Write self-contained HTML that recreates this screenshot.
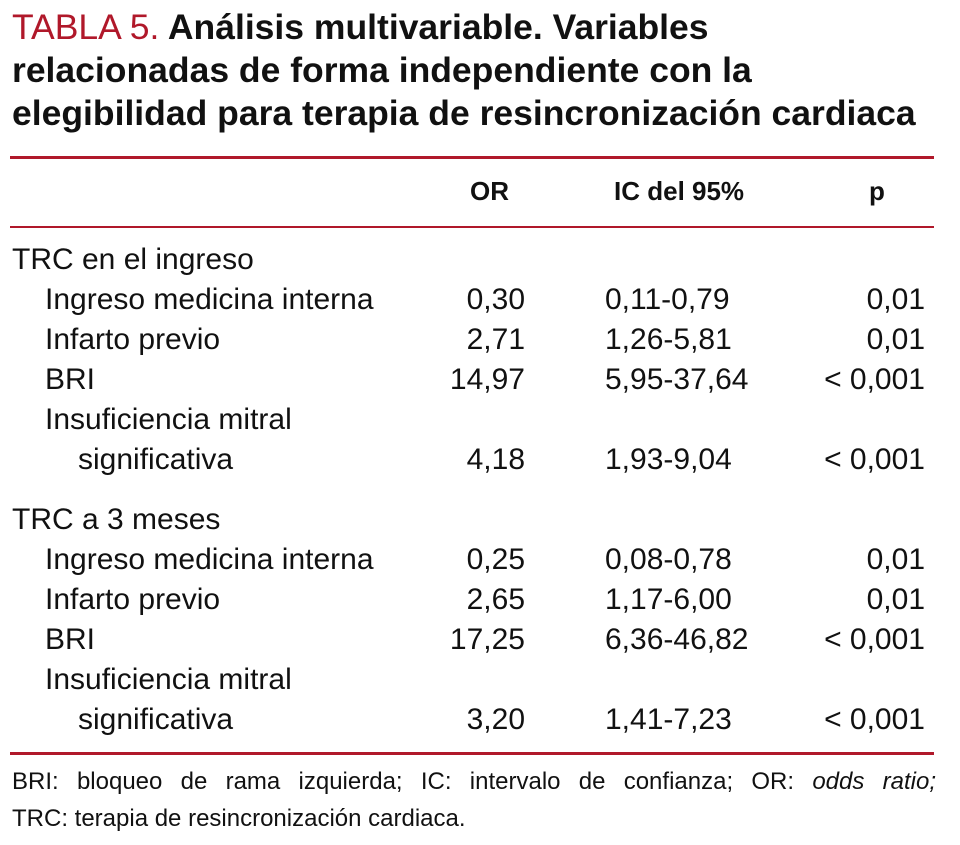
<!DOCTYPE html>
<html><head><meta charset="utf-8">
<style>
html,body{margin:0;padding:0;background:#fff;}
body{width:960px;height:845px;position:relative;overflow:hidden;font-family:"Liberation Sans Narrow","Liberation Sans",sans-serif;color:#111;}
.t{position:absolute;white-space:nowrap;line-height:34px;font-size:30px;}
.r{text-align:right;}
.title{position:absolute;left:12px;font-size:35.5px;font-weight:bold;line-height:43px;white-space:nowrap;}
.red{color:#b0182a;font-weight:normal;}
.rule{position:absolute;left:10px;width:924px;height:3px;background:#b0182a;}
.h{font-weight:bold;font-size:26px;}
.fn{position:absolute;left:12px;font-size:24px;line-height:30px;white-space:nowrap;}
</style></head><body>
<div class="title" style="top:6px"><span class="red">TABLA 5.</span> Análisis multivariable. Variables</div>
<div class="title" style="top:49px">relacionadas de forma independiente con la</div>
<div class="title" style="top:92px">elegibilidad para terapia de resincronización cardiaca</div>
<div class="rule" style="top:156px"></div>
<div class="t h" style="left:470px;top:174px">OR</div>
<div class="t h" style="left:614px;top:174px">IC del 95%</div>
<div class="t h" style="left:869px;top:174px">p</div>
<div class="rule" style="top:226px;height:2px"></div>

<div class="t" style="left:12px;top:243px">TRC en el ingreso</div>
<div class="t" style="left:45px;top:283px">Ingreso medicina interna</div>
<div class="t r" style="right:435px;top:283px">0,30</div>
<div class="t" style="left:605px;top:283px">0,11-0,79</div>
<div class="t r" style="right:35px;top:283px">0,01</div>

<div class="t" style="left:45px;top:323px">Infarto previo</div>
<div class="t r" style="right:435px;top:323px">2,71</div>
<div class="t" style="left:605px;top:323px">1,26-5,81</div>
<div class="t r" style="right:35px;top:323px">0,01</div>

<div class="t" style="left:45px;top:363px">BRI</div>
<div class="t r" style="right:435px;top:363px">14,97</div>
<div class="t" style="left:605px;top:363px">5,95-37,64</div>
<div class="t r" style="right:35px;top:363px">&lt; 0,001</div>

<div class="t" style="left:45px;top:403px">Insuficiencia mitral</div>
<div class="t" style="left:78px;top:443px">significativa</div>
<div class="t r" style="right:435px;top:443px">4,18</div>
<div class="t" style="left:605px;top:443px">1,93-9,04</div>
<div class="t r" style="right:35px;top:443px">&lt; 0,001</div>

<div class="t" style="left:12px;top:503px">TRC a 3 meses</div>
<div class="t" style="left:45px;top:543px">Ingreso medicina interna</div>
<div class="t r" style="right:435px;top:543px">0,25</div>
<div class="t" style="left:605px;top:543px">0,08-0,78</div>
<div class="t r" style="right:35px;top:543px">0,01</div>

<div class="t" style="left:45px;top:583px">Infarto previo</div>
<div class="t r" style="right:435px;top:583px">2,65</div>
<div class="t" style="left:605px;top:583px">1,17-6,00</div>
<div class="t r" style="right:35px;top:583px">0,01</div>

<div class="t" style="left:45px;top:623px">BRI</div>
<div class="t r" style="right:435px;top:623px">17,25</div>
<div class="t" style="left:605px;top:623px">6,36-46,82</div>
<div class="t r" style="right:35px;top:623px">&lt; 0,001</div>

<div class="t" style="left:45px;top:663px">Insuficiencia mitral</div>
<div class="t" style="left:78px;top:703px">significativa</div>
<div class="t r" style="right:435px;top:703px">3,20</div>
<div class="t" style="left:605px;top:703px">1,41-7,23</div>
<div class="t r" style="right:35px;top:703px">&lt; 0,001</div>

<div class="rule" style="top:752px"></div>
<div class="fn" style="top:767px;width:924px;text-align:justify;text-align-last:justify;">BRI: bloqueo de rama izquierda; IC: intervalo de confianza; OR: <i>odds ratio;</i></div>
<div class="fn" style="top:804px">TRC: terapia de resincronización cardiaca.</div>
</body></html>
